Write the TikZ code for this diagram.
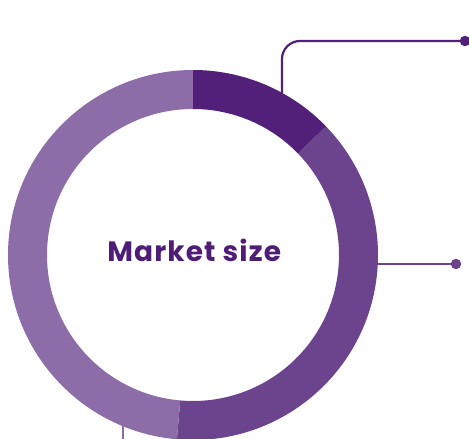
\documentclass[tikz,border=0pt]{standalone}
\usepackage{fontspec}
\setmainfont{Poppins}
\newfontfamily\titlefont{Poppins}[LetterSpace=4]
\definecolor{segdark}{HTML}{532079}
\definecolor{segmid}{HTML}{6C438D}
\definecolor{seglight}{HTML}{8C6DA7}
\definecolor{labelpurple}{HTML}{4E1E77}
\tikzset{
	leader/.style={line width=2.2pt},
	enddot/.style={circle, inner sep=0pt, minimum size=10.5pt}
}
\begin{document}
\begin{tikzpicture}[x=1pt, y=1pt]
		\useasboundingbox (-193,-184) rectangle (276,255);
		
		% ring segments
		\fill[segdark] (44:185) arc (44:90:185) -- (90:146) arc (90:44:146) -- cycle;
		\fill[segmid] (-95:185) arc (-95:44:185) -- (44:146) arc (44:-95:146) -- cycle;
		\fill[seglight] (90:185) arc (90:265:185) -- (265:146) arc (265:90:146) -- cycle;
		
		\node[anchor=base, inner sep=0pt, text=labelpurple, font=\titlefont\bfseries\fontsize{28}{32}\selectfont] (title) at (1.2,-6.7) {Market size};
		
		% leader lines
		\coordinate (topfoot) at (89,162);
		\node[enddot, fill=segdark] (topdot) at (272,214) {};
		\draw[leader, segdark, rounded corners=18pt] (topfoot) |- (topdot.center);
		
		\coordinate (rightfoot) at (184,-9);
		\node[enddot, fill=segmid] (rightdot) at (263,-9) {};
		\draw[leader, segmid] (rightfoot) -- (rightdot.center);
		
		\coordinate (bottomfoot) at (-70,-171);
		\coordinate (bottomend) at (-70,-190);
		\draw[leader, seglight] (bottomfoot) -- (bottomend);
		
	\end{tikzpicture}
\end{document}
